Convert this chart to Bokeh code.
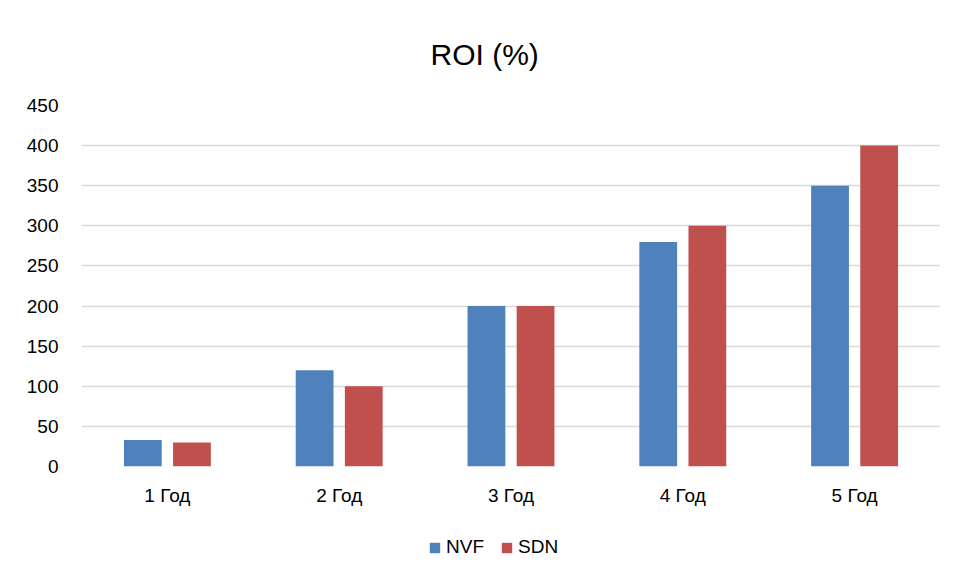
from bokeh.plotting import figure
from bokeh.layouts import column
from bokeh.models import ColumnDataSource, FactorRange, Range1d, Legend, LegendItem, FixedTicker
from bokeh.transform import dodge
from bokeh.embed import file_html
from bokeh.resources import INLINE

categories = ["1 Год", "2 Год", "3 Год", "4 Год", "5 Год"]
nvf = [33, 120, 200, 280, 350]
sdn = [30, 100, 200, 300, 400]
y_ticks = [0, 50, 100, 150, 200, 250, 300, 350, 400, 450]
series_names = ["NVF", "SDN"]
title_text = "ROI (%)"

FONT = "Liberation Sans"
BLUE = "#4F81BD"
RED = "#C0504D"
GRID = "#D9D9D9"

src = ColumnDataSource(dict(cat=categories, nvf=nvf, sdn=sdn))

p = figure(x_range=FactorRange(factors=categories, range_padding=0),
           y_range=Range1d(0, 450),
           width=957, height=525, output_backend="svg", toolbar_location=None,
           min_border_left=81, min_border_right=17, min_border_top=105, min_border_bottom=59)
p.outline_line_color = None

p.title.text = title_text
p.title.align = "left"
p.title.text_font = FONT
p.title.text_font_size = "30px"
p.title.text_font_style = "normal"
p.title.text_color = "#000000"
p.title.standoff = 70
p.title.offset = 349

r1 = p.vbar(x=dodge('cat', -0.143, range=p.x_range), top='nvf', width=0.22, source=src,
            fill_color=BLUE, line_color=None)
r2 = p.vbar(x=dodge('cat', 0.143, range=p.x_range), top='sdn', width=0.22, source=src,
            fill_color=RED, line_color=None)

p.xgrid.grid_line_color = None
p.ygrid.grid_line_color = GRID
p.ygrid.grid_line_width = 1.5
p.yaxis.ticker = FixedTicker(ticks=y_ticks)

for ax in (p.xaxis[0], p.yaxis[0]):
    ax.axis_line_color = None
    ax.major_tick_line_color = None
    ax.minor_tick_line_color = None
    ax.major_label_text_font = FONT
    ax.major_label_text_font_size = "19px"
    ax.major_label_text_color = "#000000"
p.xaxis.major_label_standoff = 12
p.yaxis.major_label_standoff = 17

# legend strip below the chart (frames are aligned by the column layout)
pl = figure(x_range=Range1d(0, 1), y_range=Range1d(0, 1), width=957, height=55,
            output_backend="svg", toolbar_location=None,
            min_border_left=0, min_border_right=0, min_border_top=0, min_border_bottom=0)
pl.axis.visible = False
pl.grid.grid_line_color = None
pl.outline_line_color = None
nan = float("nan")
k1 = pl.vbar(x=[nan], top=[nan], width=0.1, fill_color=BLUE, line_color=None)
k2 = pl.vbar(x=[nan], top=[nan], width=0.1, fill_color=RED, line_color=None)

legend = Legend(items=[LegendItem(label=series_names[0], renderers=[k1], index=0),
                       LegendItem(label=series_names[1], renderers=[k2], index=0)],
                orientation="horizontal", location=(347, 22),
                glyph_width=13, glyph_height=13, label_height=13,
                label_standoff=5, spacing=16, padding=0, margin=0,
                border_line_color=None, background_fill_alpha=0,
                label_text_font=FONT, label_text_font_size="19px",
                label_text_color="#000000")
pl.add_layout(legend, "center")

layout = column(p, pl, spacing=0)
open("out.html", "w").write(file_html(layout, INLINE))
